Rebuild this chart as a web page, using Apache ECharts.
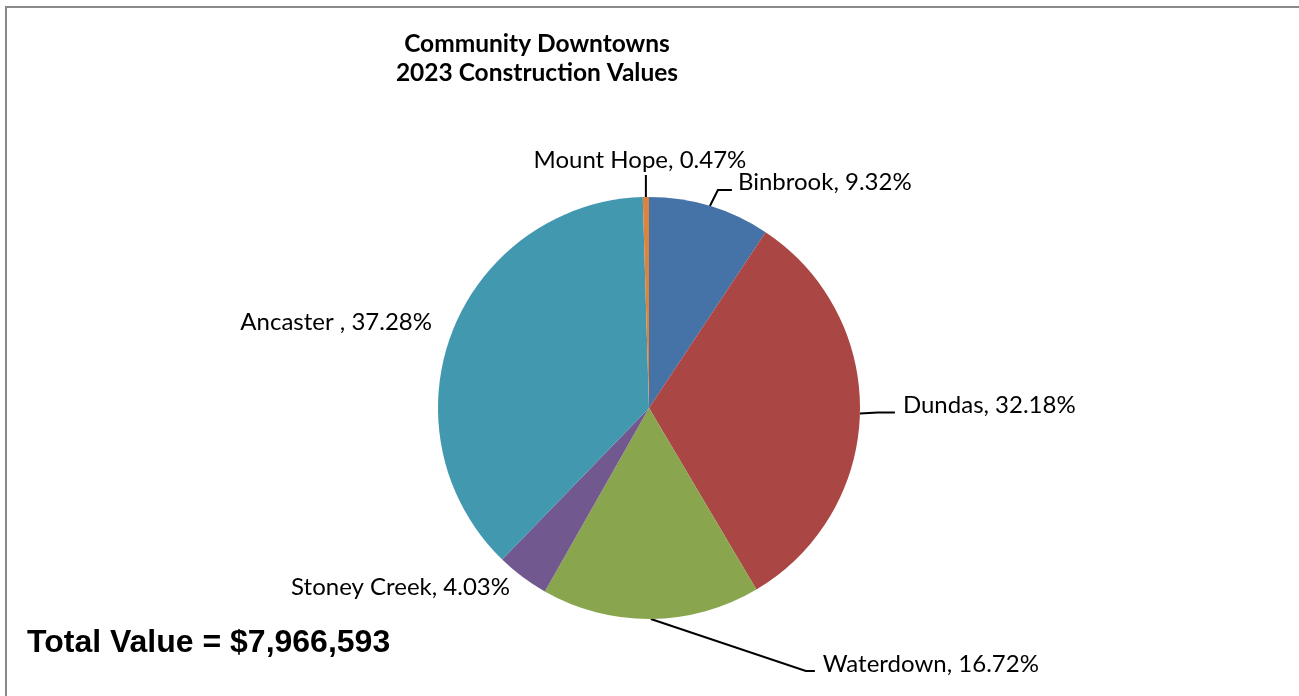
<!DOCTYPE html>
<html>
<head>
<meta charset="utf-8">
<script src="https://cdn.jsdelivr.net/npm/echarts@6/dist/echarts.min.js"></script>
<style>
html,body{margin:0;padding:0;background:#fff;}
#chart{width:1299px;height:696px;}
</style>
</head>
<body>
<div id="chart"></div>
<script>
const categories = ['Binbrook', 'Dundas', 'Waterdown', 'Stoney Creek', 'Ancaster ', 'Mount Hope'];
const shares = [9.32, 32.18, 16.72, 4.03, 37.28, 0.47];
const sliceColors = ['#4572A7', '#AA4643', '#89A54E', '#71588F', '#4198AF', '#DB843D'];
const titleLines = ['Community Downtowns', '2023 Construction Values'];
const totalText = 'Total Value = $7,966,593';

const CX = 649, CY = 408, R = 211;
const LABEL_FONT = 'Lato';
const LABEL_SIZE = 24;

// label placement styles (offsets from slice edge point), by index
const placement = [
  {line: [[8, -16], [14, 0]], gap: 6, dy: -8, align: 'left'},      // Binbrook
  {line: [[18, -1], [17, 0]], gap: 8, dy: -7, align: 'left'},       // Dundas
  {line: [[155, 52], [9, 0]], gap: 8, dy: -7, align: 'left'},       // Waterdown
  {line: null, abs: [-139, 179], align: 'right'},                   // Stoney Creek
  {line: null, abs: [-217, -86], align: 'right'},                   // Ancaster
  {line: [[0, -22]], gap: 0, dy: -3, align: 'center', vtop: true}   // Mount Hope
];

const total = shares.reduce((a, b) => a + b, 0);
function edgePoint(i) {
  let before = 0;
  for (let k = 0; k < i; k++) before += shares[k];
  const mid = (before + shares[i] / 2) / total * 2 * Math.PI;
  return [CX + R * Math.sin(mid), CY - R * Math.cos(mid)];
}

const chart = echarts.init(document.getElementById('chart'));
chart.setOption({
  animation: false,
  backgroundColor: '#ffffff',
  graphic: [
    {type: 'rect', shape: {x: 6, y: 7, width: 1400, height: 800},
     style: {fill: 'none', stroke: '#898989', lineWidth: 2}, silent: true},
    {type: 'text', x: 537, y: 44, style: {text: titleLines[0], fontFamily: LABEL_FONT, fontWeight: 'bold',
      fontSize: 24.5, fill: '#000', textAlign: 'center', textVerticalAlign: 'middle'}},
    {type: 'text', x: 537, y: 73, style: {text: titleLines[1], fontFamily: LABEL_FONT, fontWeight: 'bold',
      fontSize: 24.5, fill: '#000', textAlign: 'center', textVerticalAlign: 'middle'}},
    {type: 'text', x: 27, y: 643, style: {text: totalText, fontFamily: 'Liberation Sans', fontWeight: 'bold',
      fontSize: 32, fill: '#000', textAlign: 'left', textVerticalAlign: 'middle'}}
  ],
  series: [{
    type: 'pie',
    center: [CX, CY],
    radius: R,
    startAngle: 90,
    clockwise: true,
    data: categories.map((n, i) => ({
      name: n, value: shares[i],
      itemStyle: {color: sliceColors[i]},
      labelLine: {show: placement[i].line !== null}
    })),
    label: {
      show: true,
      formatter: '{b}, {c}%',
      fontFamily: LABEL_FONT,
      fontSize: LABEL_SIZE,
      color: '#000'
    },
    labelLine: {show: true, lineStyle: {color: '#000', width: 2}},
    labelLayout: function (params) {
      const i = params.dataIndex;
      const p = placement[i];
      const e = edgePoint(i);
      if (!p.line) {
        return {x: CX + p.abs[0], y: CY + p.abs[1], align: p.align, verticalAlign: 'middle'};
      }
      const pts = [e];
      let cur = e;
      p.line.forEach(d => { cur = [cur[0] + d[0], cur[1] + d[1]]; pts.push(cur); });
      if (p.vtop) {
        return {x: cur[0] - 6, y: cur[1] + p.dy, align: 'center', verticalAlign: 'bottom', labelLinePoints: pts};
      }
      return {x: cur[0] + p.gap, y: cur[1] + p.dy, align: p.align, verticalAlign: 'middle', labelLinePoints: pts};
    }
  }]
});
</script>
</body>
</html>
